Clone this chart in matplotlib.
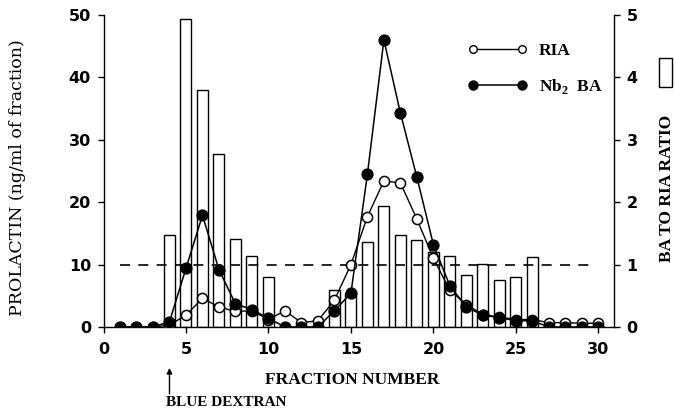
import matplotlib
matplotlib.use('Agg')
import matplotlib.pyplot as plt
from matplotlib.lines import Line2D
from matplotlib.legend_handler import HandlerLine2D
from matplotlib.patches import Rectangle

plt.rcParams['font.family'] = ['DejaVu Sans']
plt.rcParams['mathtext.fontset'] = 'custom'
plt.rcParams['mathtext.rm'] = 'Liberation Serif:bold'
plt.rcParams['mathtext.bf'] = 'Liberation Serif:bold'

# ---- data ----
fractions = list(range(1, 31))
ria = [0, 0, 0, 0.3, 1.9, 4.6, 3.2, 2.5, 2.6, 1.2, 2.6, 0.7, 1.0, 4.3, 10.0,
       17.7, 23.4, 23.1, 17.3, 11.0, 5.9, 3.6, 2.0, 1.6, 1.2, 1.2, 0.7, 0.7, 0.6, 0.6]
ba = [0, 0, 0, 0.85, 9.4, 17.9, 9.2, 3.7, 2.8, 1.4, 0, 0, 0, 2.6, 5.4,
      24.5, 46.0, 34.3, 24.0, 13.2, 6.6, 3.2, 1.9, 1.5, 1.0, 1.0, 0, 0, 0, 0]
ratio_fractions = [4, 5, 6, 7, 8, 9, 10, 14, 15, 16, 17, 18, 19, 20, 21, 22, 23, 24, 25, 26]
ratio = [1.47, 4.93, 3.80, 2.78, 1.41, 1.14, 0.80, 0.60, 0.54, 1.36, 1.94, 1.47,
         1.39, 1.20, 1.13, 0.83, 1.01, 0.76, 0.80, 1.12]
ratio_reference = 1.0
reference_span = (1.0, 29.8)
marker_fraction = 4

x_ticks = [0, 5, 10, 15, 20, 25, 30]
y_ticks = [0, 10, 20, 30, 40, 50]
y2_ticks = [0, 1, 2, 3, 4, 5]

W, H = 674, 413
fig = plt.figure(figsize=(W / 100, H / 100), dpi=100)

def fx(px):
    return px / W

def fy(py):
    return 1 - py / H

ax = fig.add_axes([fx(103.5), fy(327), (614 - 103.5) / W, (327 - 15) / H])
ax2 = ax.twinx()

# bars (ratio) on right axis
ax2.bar(ratio_fractions, ratio, width=0.67, facecolor='white', edgecolor='black',
        linewidth=1.0, zorder=1)
ax2.hlines(ratio_reference, *reference_span, colors='black',
           linestyles=(0, (6, 5)), linewidth=1.2, zorder=3)
ax2.set_ylim(0, 5)
ax2.set_yticks(y2_ticks)

# lines on left axis
ax.set_zorder(ax2.get_zorder() + 1)
ax.patch.set_visible(False)
ax.plot(fractions, ria, color='black', lw=1.0, marker='o', ms=7.3,
        mfc='white', mec='black', mew=1.1, zorder=4)
ax.plot(fractions, ba, color='black', lw=1.1, marker='o', ms=7.8,
        mfc='black', mec='black', zorder=5)

ax.set_xlim(0, 30.95)
ax.set_ylim(0, 50)
ax.set_xticks(x_ticks)
ax.set_yticks(y_ticks)

for a in (ax, ax2):
    a.spines['top'].set_visible(False)
    for s in a.spines.values():
        s.set_linewidth(1.0)
ax.spines['right'].set_visible(False)
ax2.spines['left'].set_visible(False)
ax2.spines['bottom'].set_visible(False)

ax.tick_params(axis='y', direction='out', length=4, width=1, labelsize=11.5, pad=5)
ax.tick_params(axis='x', direction='out', length=4, width=1, labelsize=11.5, pad=7)
ax2.tick_params(axis='y', direction='out', length=4, width=1, labelsize=11.5, pad=5)
for lab in ax.get_xticklabels() + ax.get_yticklabels() + ax2.get_yticklabels():
    lab.set_fontweight('bold')

serif_bold = dict(family='Liberation Serif', weight='bold')

# axis labels
fig.text(fx(352), fy(380), 'FRACTION NUMBER', ha='center', va='center',
         fontsize=12.5, **serif_bold)
fig.text(fx(18), fy(178), 'PROLACTIN (ng/ml of fraction)', rotation=90,
         ha='center', va='center', fontsize=12.5, family='DejaVu Serif')
fig.text(fx(667), fy(188), 'BA TO RIA RATIO', rotation=90, ha='center',
         va='center', fontsize=12.5, **serif_bold)
fig.add_artist(Rectangle((fx(659), fy(87)), 13 / W, 29 / H, transform=fig.transFigure,
                         fill=False, edgecolor='black', linewidth=1.0))

# blue dextran marker
ax.annotate('', xy=(marker_fraction, fy(368)), xytext=(marker_fraction, fy(394)),
            xycoords=('data', 'figure fraction'), textcoords=('data', 'figure fraction'),
            arrowprops=dict(arrowstyle='-|>', color='black', lw=1.0,
                            mutation_scale=8, shrinkA=0, shrinkB=0),
            annotation_clip=False)
fig.text(fx(166), fy(403), 'BLUE DEXTRAN', ha='left', va='center', fontsize=11,
         **serif_bold)

# legend
h_ria = Line2D([], [], color='black', lw=1.0, marker='o', ms=5.5, mfc='white',
               mec='black', mew=1.0)
h_ba = Line2D([], [], color='black', lw=1.1, marker='o', ms=6.5, mfc='black',
              mec='black')
leg = ax.legend([h_ria, h_ba], ['RIA', 'Nb$_2$  BA'], numpoints=2, frameon=False,
                loc='center left', bbox_to_anchor=(0.724, 0.826),
                handlelength=2.8, handletextpad=1.0, labelspacing=1.05,
                borderpad=0, borderaxespad=0,
                prop=dict(family='Liberation Serif', weight='bold', size=12.5),
                handler_map={Line2D: HandlerLine2D(marker_pad=0)})

fig.savefig('out.png', dpi=100)
